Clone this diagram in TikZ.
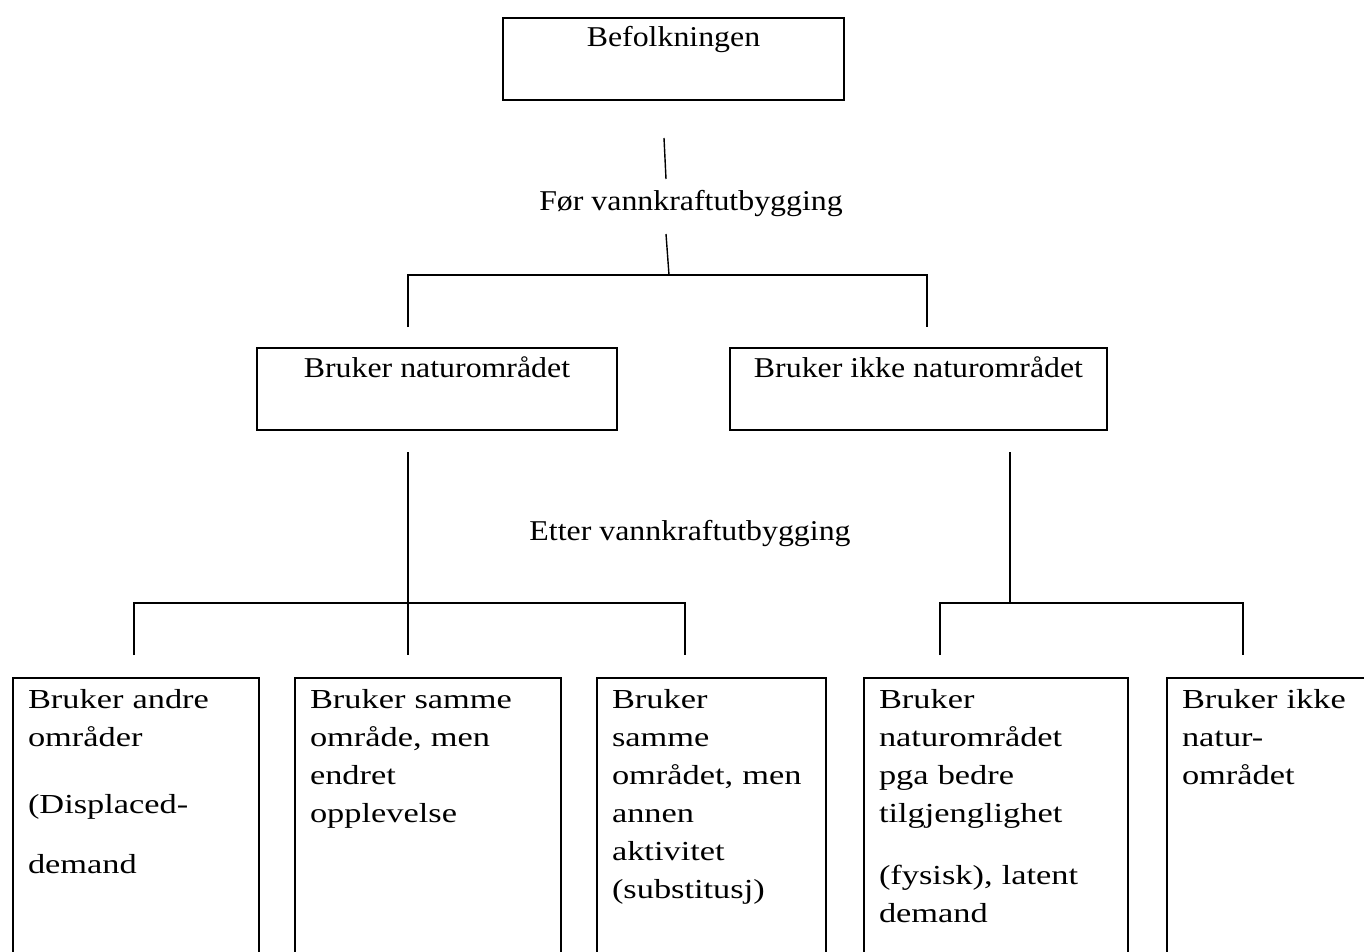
\documentclass[tikz,border=0pt]{standalone}
\usepackage{fontspec}
\setmainfont{Liberation Serif}
\newfontfamily\headfont[FakeStretch=1.11]{Liberation Serif}
\newfontfamily\cellfont[FakeStretch=1.25]{Liberation Serif}
\usetikzlibrary{positioning}

\tikzset{
  groupbox/.style={draw, line width=1pt, anchor=north, inner xsep=0pt, inner ysep=0pt,
    minimum width=#1, text height=14.5pt, text depth=26.5pt,
    font=\headfont\fontsize{14.35}{17}\selectfont},
  casebox/.style={draw, line width=1pt, anchor=north west, inner xsep=7.5pt, inner ysep=0pt,
    text width=#1, align=left, text height=15pt, text depth=140pt,
    font=\cellfont\fontsize{13.75}{19}\selectfont},
  phase/.style={anchor=base, inner sep=0pt, font=\headfont\fontsize{14.35}{17}\selectfont},
  link/.style={line width=0.7pt},
}

\begin{document}
\begin{tikzpicture}[x=0.5pt, y=-0.5pt]
  \path[use as bounding box] (0,0) rectangle (1364,952);
  \clip (0,0) rectangle (1364,952);

  % top level
  \node[groupbox=170.5pt] (pop) at (673.5,17) {Befolkningen};
  \node[phase] (before) at (691,211) {Før vannkraftutbygging};
  \node[groupbox=180pt] (users) at (437,347) {Bruker naturområdet};
  \node[groupbox=188.5pt] (nonusers) at (918.5,347) {Bruker ikke naturområdet};
  \node[phase] (after) at (690,540) {Etter vannkraftutbygging};

  % bottom level
  \node[casebox=108pt] (other) at (12,677) {Bruker andre\\områder\\[14.5pt](Displaced-\\[11pt]demand};
  \node[casebox=118pt] (same) at (294,677) {Bruker samme\\område, men\\endret\\opplevelse};
  \node[casebox=99.5pt] (subst) at (596,677) {Bruker\\samme\\området, men\\annen\\aktivitet\\(substitusj)};
  \node[casebox=117pt] (latent) at (863,677) {Bruker\\naturområdet\\pga bedre\\tilgjenglighet\\[12pt](fysisk), latent\\demand};
  \node[casebox=115pt] (still) at (1166,677) {Bruker ikke\\natur-\\området};

  % free ends of the connectors
  \coordinate (a1) at (664,138);
  \coordinate (a2) at (666,179);
  \coordinate (b1) at (666,234);
  \coordinate (b2) at (669,275);
  \coordinate (ul) at (408,327);
  \coordinate (ur) at (927,327);
  \coordinate (dl) at (408,452);
  \coordinate (dr) at (1010,452);
  \coordinate (k1) at (134,655);
  \coordinate (k2) at (408,655);
  \coordinate (k3) at (685,655);
  \coordinate (k4) at (940,655);
  \coordinate (k5) at (1243,655);

  \draw[link] (a1) -- (a2);
  \draw[link] (b1) -- (b2);
  \draw[link] (ul) -- ++(0,-52) -| (ur);
  \draw[link] (dl) -- (k2);
  \draw[link] (k1) -- ++(0,-52) -| (k3);
  \draw[link] (dr) -- ++(0,151);
  \draw[link] (k4) -- ++(0,-52) -| (k5);
\end{tikzpicture}
\end{document}
